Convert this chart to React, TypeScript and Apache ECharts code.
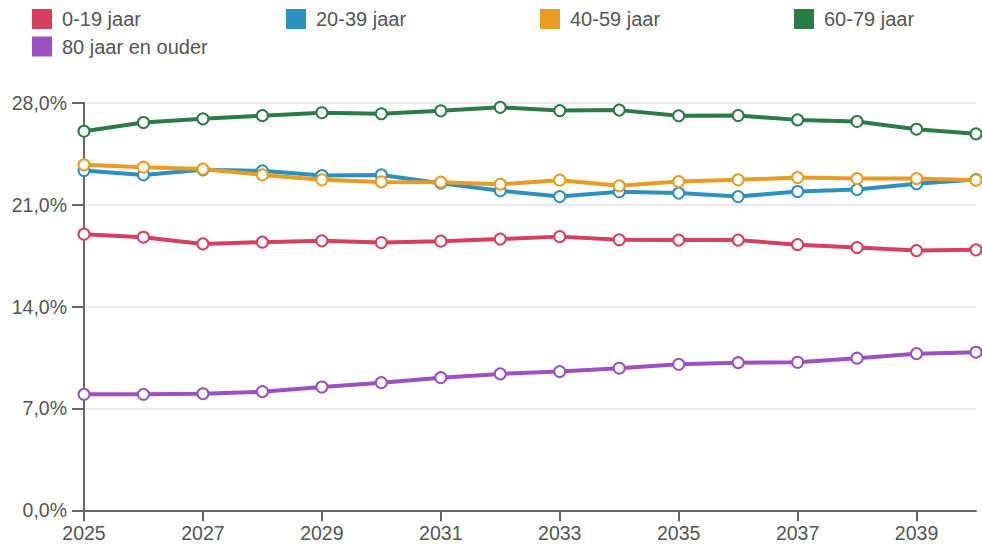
import React, { useEffect, useRef } from "react";
import * as echarts from "echarts";

const years = ["2025","2026","2027","2028","2029","2030","2031","2032","2033","2034","2035","2036","2037","2038","2039","2040"];
const seriesNames = ["0-19 jaar", "20-39 jaar", "40-59 jaar", "60-79 jaar", "80 jaar en ouder"];
const seriesColors = ["#d6405f", "#2c91c0", "#e89c23", "#2b7b47", "#9b51c2"];

const age0to19 = [18.97, 18.76, 18.3, 18.42, 18.51, 18.39, 18.49, 18.63, 18.8, 18.58, 18.56, 18.56, 18.25, 18.05, 17.84, 17.89];
const age20to39 = [23.34, 23.04, 23.39, 23.32, 23.0, 23.04, 22.47, 21.95, 21.55, 21.88, 21.79, 21.55, 21.9, 22.03, 22.43, 22.72];
const age40to59 = [23.73, 23.57, 23.44, 23.04, 22.7, 22.56, 22.54, 22.4, 22.68, 22.29, 22.58, 22.7, 22.86, 22.79, 22.79, 22.68];
const age60to79 = [26.04, 26.64, 26.89, 27.11, 27.31, 27.24, 27.44, 27.68, 27.46, 27.49, 27.1, 27.12, 26.82, 26.71, 26.18, 25.86];
const age80plus = [7.97, 7.97, 8.01, 8.15, 8.47, 8.77, 9.11, 9.37, 9.53, 9.76, 10.03, 10.14, 10.17, 10.45, 10.76, 10.86];

const yTicks = [0, 7, 14, 21, 28];

const allSeries = [age0to19, age20to39, age40to59, age60to79, age80plus];
const legendPos = [
  { left: 32, top: 9 },
  { left: 286, top: 9 },
  { left: 540, top: 9 },
  { left: 794, top: 9 },
  { left: 32, top: 36.5 },
];

const FONT = "'Liberation Sans', Arial, sans-serif";

export default function App() {
  const ref = useRef<HTMLDivElement>(null);
  useEffect(() => {
    if (!ref.current) return;
    const chart = echarts.init(ref.current, null, { renderer: "svg" });
    chart.setOption({
      animation: false,
      textStyle: { fontFamily: FONT },
      legend: seriesNames.map((n, i) => ({
        left: legendPos[i].left,
        top: legendPos[i].top,
        padding: 0,
        icon: "rect",
        itemWidth: 20,
        itemHeight: 20,
        itemGap: 0,
        textStyle: { fontSize: 20, color: "#555", fontFamily: FONT, padding: [0, 0, 0, 5] },
        data: [{ name: n, itemStyle: { color: seriesColors[i], borderWidth: 0 } }],
        selectedMode: false,
      })),
      grid: { left: 84, right: 6, top: 102.7, bottom: 35.7, containLabel: false },
      xAxis: {
        type: "category",
        data: years,
        boundaryGap: false,
        axisLine: { lineStyle: { color: "#666", width: 2 } },
        axisTick: { show: true, interval: 1, length: 11, lineStyle: { color: "#666", width: 2 } },
        axisLabel: { interval: 1, fontSize: 19.5, color: "#555", margin: 13, fontFamily: FONT },
        splitLine: { show: false },
      },
      yAxis: {
        type: "value",
        min: yTicks[0],
        max: yTicks[yTicks.length - 1],
        interval: yTicks[1] - yTicks[0],
        axisLine: { show: true, lineStyle: { color: "#666", width: 2 } },
        axisTick: { show: true, length: 12, lineStyle: { color: "#666", width: 2 } },
        axisLabel: {
          fontSize: 19.5,
          color: "#555",
          margin: 17,
          fontFamily: FONT,
          formatter: (v: number) => v.toFixed(1).replace(".", ",") + "%",
        },
        splitLine: { show: true, lineStyle: { color: "#ebebeb", width: 2 } },
      },
      series: seriesNames.map((n, i) => ({
        name: n,
        type: "line",
        data: allSeries[i],
        symbol: "circle",
        symbolSize: 11,
        color: seriesColors[i],
        lineStyle: { color: seriesColors[i], width: 4 },
        itemStyle: { color: "#fff", borderColor: seriesColors[i], borderWidth: 2 },
        emphasis: { disabled: true },
      })),
    });
    return () => chart.dispose();
  }, []);
  return <div ref={ref} style={{ width: 982, height: 546, position: "absolute", left: 0, top: 0 }} />;
}
